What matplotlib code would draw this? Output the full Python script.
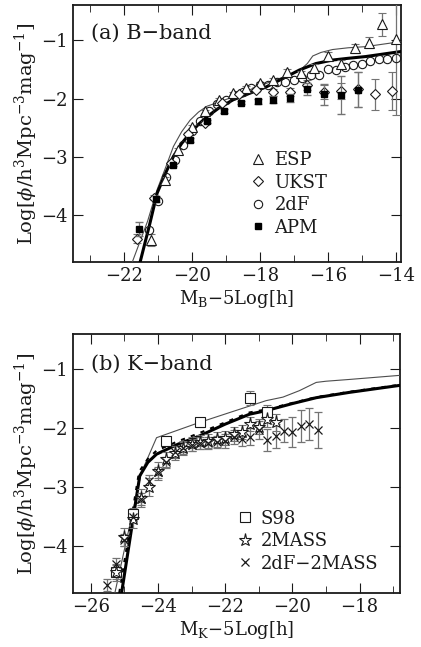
import matplotlib
matplotlib.use("Agg")
import matplotlib.pyplot as plt
from matplotlib.ticker import MultipleLocator

plt.rcParams['font.family'] = ['DejaVu Serif']
plt.rcParams['mathtext.fontset'] = 'dejavuserif'

# ---------------- (a) B-band ----------------
# model curves
b_thin_x = [-21.75, -21.3, -21.02, -20.75, -20.54, -20.3, -20.05, -19.8, -19.55, -19.2,
            -18.78, -18.3, -17.81, -17.3, -16.83, -16.6, -16.44, -16.2, -15.86, -15.4, -14.88, -14.4, -13.8]
b_thin_y = [-4.80, -4.10, -3.56, -3.15, -2.82, -2.57, -2.37, -2.23, -2.13, -2.06,
            -1.97, -1.85, -1.74, -1.63, -1.52, -1.40, -1.27, -1.21, -1.16, -1.13, -1.11, -1.07, -1.02]
b_thick_x = [-21.52, -21.25, -21.02, -20.75, -20.54, -20.3, -20.05, -19.8, -19.55, -19.2,
             -18.78, -18.3, -17.81, -17.3, -16.83, -16.35, -15.86, -15.4, -14.88, -14.4, -13.8]
b_thick_y = [-4.80, -4.18, -3.62, -3.25, -2.99, -2.77, -2.59, -2.44, -2.31, -2.16,
             -2.02, -1.91, -1.80, -1.65, -1.51, -1.40, -1.34, -1.31, -1.28, -1.24, -1.19]

esp_x = [-21.2, -20.8, -20.4, -20.0, -19.6, -19.2, -18.8, -18.4, -18.0, -17.6,
         -17.2, -16.8, -16.4, -16.0, -15.6, -15.2, -14.8, -14.4, -14.0]
esp_y = [-4.42, -3.40, -2.88, -2.48, -2.22, -2.02, -1.91, -1.82, -1.74, -1.68,
         -1.55, -1.57, -1.47, -1.27, -1.41, -1.14, -1.04, -0.73, -0.98]
esp_e = [0.10, 0.05, 0.04, 0.03, 0.03, 0.03, 0.03, 0.03, 0.03, 0.04,
         0.05, 0.05, 0.06, 0.06, 0.07, 0.08, 0.09, 0.20, 1.30]

ukst_x = [-21.6, -21.1, -20.6, -20.1, -19.6, -19.1, -18.6, -18.1,
          -17.6, -17.1, -16.6, -16.1, -15.6, -15.1, -14.6, -14.1]
ukst_y = [-4.40, -3.70, -3.10, -2.60, -2.42, -2.08, -1.92, -1.85,
          -1.89, -1.89, -1.77, -1.89, -1.87, -1.84, -1.93, -1.87]
ukst_e = [0.08, 0.04, 0.03, 0.03, 0.03, 0.03, 0.03, 0.04,
          0.06, 0.07, 0.09, 0.12, 0.14, 0.30, 0.26, 0.33]

tdf_x = [-21.25, -21.0, -20.75, -20.5, -20.25, -20.0, -19.75, -19.5, -19.25, -19.0,
         -18.75, -18.5, -18.25, -18.0, -17.75, -17.5, -17.25, -17.0, -16.75, -16.5,
         -16.25, -16.0, -15.75, -15.5, -15.25, -15.0, -14.75, -14.5, -14.25, -14.0]
tdf_y = [-4.25, -3.75, -3.35, -3.05, -2.80, -2.55, -2.38, -2.22, -2.10, -2.02,
         -1.94, -1.88, -1.82, -1.77, -1.77, -1.72, -1.72, -1.68, -1.64, -1.60,
         -1.60, -1.50, -1.51, -1.46, -1.42, -1.40, -1.36, -1.33, -1.32, -1.31]

apm_x = [-21.55, -21.05, -20.55, -20.05, -19.55, -19.05, -18.55, -18.05,
         -17.6, -17.1, -16.6, -16.1, -15.6, -15.1]
apm_y = [-4.24, -3.72, -3.13, -2.71, -2.39, -2.21, -2.07, -2.05,
         -2.02, -1.99, -1.84, -1.93, -1.94, -1.85]
apm_e = [0.12, 0.05, 0.03, 0.03, 0.03, 0.03, 0.03, 0.05,
         0.06, 0.07, 0.10, 0.18, 0.33, 0.30]

# ---------------- (b) K-band ----------------
k_thin_x = [-25.28, -24.49, -24.04, -23.4, -22.76, -21.8, -20.78, -20.28, -19.79, -19.29, -19.0, -18.31, -16.8]
k_thin_y = [-4.80, -2.75, -2.16, -2.03, -1.90, -1.72, -1.53, -1.47, -1.36, -1.22, -1.20, -1.17, -1.10]
k_thick_x = [-25.08, -24.54, -24.3, -24.04, -23.4, -22.76, -22.0, -21.27, -20.78, -20.0, -19.29, -18.31, -16.8]
k_thick_y = [-4.80, -2.81, -2.58, -2.44, -2.27, -2.13, -1.93, -1.76, -1.70, -1.58, -1.48, -1.39, -1.27]
k_dash_x = [-25.15, -24.56, -24.3, -24.04, -23.4, -22.76, -22.0, -21.27, -20.78, -20.0, -19.29, -18.31, -16.8]
k_dash_y = [-4.80, -2.74, -2.52, -2.38, -2.22, -2.08, -1.90, -1.73, -1.68, -1.57, -1.47, -1.38, -1.26]

s98_x = [-25.25, -24.75, -23.75, -22.75, -21.25, -20.75]
s98_y = [-4.44, -3.45, -2.21, -1.90, -1.49, -1.73]
s98_e = [0.12, 0.10, 0.06, 0.07, 0.12, 0.12]

tm_x = [-25.25, -25.0, -24.75, -24.5, -24.25, -24.0, -23.75, -23.5, -23.25, -23.0,
        -22.75, -22.5, -22.25, -22.0, -21.75, -21.5, -21.25, -21.0, -20.75, -20.5]
tm_y = [-4.45, -3.85, -3.55, -3.18, -3.00, -2.73, -2.53, -2.42, -2.33, -2.27,
        -2.24, -2.22, -2.19, -2.17, -2.10, -2.07, -1.93, -1.97, -1.84, -1.90]
tm_e = [0.15, 0.15, 0.15, 0.15, 0.15, 0.15, 0.12, 0.12, 0.12, 0.12,
        0.12, 0.12, 0.12, 0.12, 0.12, 0.12, 0.12, 0.12, 0.14, 0.14]

tdk_x = [-25.5, -25.25, -25.0, -24.75, -24.5, -24.25, -24.0, -23.75, -23.5, -23.25,
         -23.0, -22.75, -22.5, -22.25, -22.0, -21.75, -21.5, -21.25, -21.0, -20.75,
         -20.5, -20.25, -20.0, -19.75, -19.5, -19.25]
tdk_y = [-4.66, -4.30, -3.90, -3.50, -3.20, -2.90, -2.75, -2.58, -2.40, -2.33,
         -2.28, -2.25, -2.25, -2.23, -2.22, -2.15, -2.18, -2.14, -2.03, -2.20,
         -2.13, -2.04, -2.06, -1.96, -1.93, -2.03]
tdk_e = [0.10, 0.10, 0.10, 0.10, 0.10, 0.10, 0.10, 0.10, 0.10, 0.10,
         0.10, 0.10, 0.10, 0.10, 0.12, 0.12, 0.12, 0.14, 0.16, 0.18,
         0.20, 0.20, 0.26, 0.27, 0.27, 0.31]

ERR = '0.45'
INK = '0.1'


def style_axes(ax, xlim):
    ax.set_xlim(*xlim)
    ax.set_ylim(-4.8, -0.4)
    ax.xaxis.set_major_locator(MultipleLocator(2))
    ax.xaxis.set_minor_locator(MultipleLocator(1))
    ax.yaxis.set_major_locator(MultipleLocator(1))
    ax.tick_params(which='both', direction='in', top=True, right=True, labelsize=13, colors=INK)
    ax.tick_params(which='major', length=7)
    ax.tick_params(which='minor', length=5)
    for s in ax.spines.values():
        s.set_linewidth(1.3)
        s.set_color(INK)
    ax.set_ylabel(r'Log[$\phi$/h$^3$Mpc$^{-3}$mag$^{-1}$]', fontsize=14, color=INK, labelpad=1)


def add_legend(ax, handles, labels, anchor):
    leg = ax.legend(handles, labels, loc='upper left', bbox_to_anchor=anchor, frameon=False,
                    fontsize=13, handletextpad=0.3, labelspacing=0.25, handlelength=1.2,
                    borderaxespad=0)
    for t in leg.get_texts():
        t.set_color(INK)


fig = plt.figure(figsize=(4.21, 6.47), dpi=100)
ax1 = fig.add_axes([0.173, 0.595, 0.779, 0.397])
ax2 = fig.add_axes([0.173, 0.0835, 0.777, 0.400])

# panel (a)
ax1.plot(b_thin_x, b_thin_y, color='0.3', lw=0.8, zorder=3)
ax1.plot(b_thick_x, b_thick_y, color='k', lw=2.2, zorder=3)
e1 = ax1.errorbar(esp_x, esp_y, yerr=esp_e, fmt='^', ms=6.5, mfc='white', mec=INK, mew=0.8,
                  ecolor=ERR, elinewidth=0.9, capsize=3, zorder=4)
e2 = ax1.errorbar(ukst_x, ukst_y, yerr=ukst_e, fmt='D', ms=5.5, mfc='white', mec=INK, mew=0.8,
                  ecolor=ERR, elinewidth=0.9, capsize=3, zorder=4)
e3, = ax1.plot(tdf_x, tdf_y, 'o', ms=6, mfc='none', mec=INK, mew=0.8, zorder=4)
e4 = ax1.errorbar(apm_x, apm_y, yerr=apm_e, fmt='s', ms=4.5, mfc='k', mec='k',
                  ecolor=ERR, elinewidth=0.9, capsize=3, zorder=5)
style_axes(ax1, (-23.5, -13.85))
ax1.set_xlabel(r'M$_{\rm B}$$-$5Log[h]', fontsize=13, color=INK, labelpad=2)
ax1.text(0.055, 0.89, '(a) B\u2212band', transform=ax1.transAxes, fontsize=15,
         color=INK, va='center')
add_legend(ax1, [e1[0], e2[0], e3, e4[0]], ['ESP', 'UKST', '2dF', 'APM'], (0.51, 0.46))

# panel (b)
ax2.plot(k_thin_x, k_thin_y, color='0.3', lw=0.8, zorder=3)
ax2.plot(k_thick_x, k_thick_y, color='k', lw=2.2, zorder=3)
ax2.plot(k_dash_x, k_dash_y, color='k', lw=1.5, ls=(0, (2, 3)), zorder=3)
f1 = ax2.errorbar(s98_x, s98_y, yerr=s98_e, fmt='s', ms=6.5, mfc='white', mec=INK, mew=0.8,
                  ecolor=ERR, elinewidth=0.9, capsize=3, zorder=4)
f2 = ax2.errorbar(tm_x, tm_y, yerr=tm_e, fmt='*', ms=9.5, mfc='white', mec=INK, mew=0.8,
                  ecolor=ERR, elinewidth=0.9, capsize=3, zorder=4)
f3 = ax2.errorbar(tdk_x, tdk_y, yerr=tdk_e, fmt='x', ms=6, mec=INK, mew=0.9,
                  ecolor=ERR, elinewidth=0.9, capsize=3, zorder=4)
style_axes(ax2, (-26.53, -16.8))
ax2.set_xlabel(r'M$_{\rm K}$$-$5Log[h]', fontsize=13, color=INK, labelpad=2)
ax2.text(0.055, 0.885, '(b) K\u2212band', transform=ax2.transAxes, fontsize=15,
         color=INK, va='center')
add_legend(ax2, [f1[0], f2[0], f3[0]], ['S98', '2MASS', '2dF\u22122MASS'], (0.47, 0.35))

fig.savefig('out.png', dpi=100)
